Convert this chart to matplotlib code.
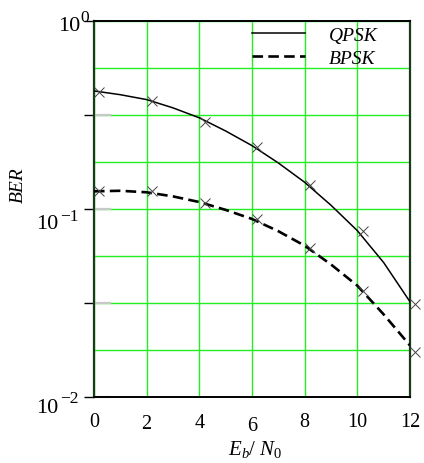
import matplotlib
matplotlib.use("Agg")
import matplotlib.pyplot as plt
import matplotlib.transforms as mtransforms
import numpy as np

# ---- data ----
ebn0_curve = [0, 1, 2, 3, 4, 5, 6, 7, 8, 9, 10, 11, 12]
qpsk_curve = [0.4246, 0.4055, 0.3819, 0.3451, 0.3055, 0.2600, 0.2173,
              0.1758, 0.1387, 0.1047, 0.0767, 0.0519, 0.0321]
bpsk_curve = [0.1242, 0.1250, 0.1227, 0.1167, 0.1089, 0.0989, 0.0885,
              0.0762, 0.0638, 0.0507, 0.0391, 0.0275, 0.0188]

ebn0_sim = [0.2, 2.2, 4.2, 6.2, 8.2, 10.2, 12.2]
qpsk_sim = [0.419, 0.377, 0.291, 0.213, 0.134, 0.0760, 0.0313]
bpsk_sim = [0.124, 0.124, 0.1076, 0.0885, 0.0618, 0.0368, 0.0173]

x_ticks = [0, 2, 4, 6, 8, 10, 12]
y_ticks = [1e0, 1e-1, 1e-2]
y_tick_exponents = ["0", "\u22121", "\u22122"]
series_names = ["QPSK", "BPSK"]

# ---- layout (pixel offsets relative to the left spine / tick) ----
# (right edge of "10", left of superscript, base baseline below tick, sup baseline below tick)
ylabel_layout = [(-14, -14, 9, 0), (-36, -34, 19, 11), (-36, -34, 15, 5)]

plt.rcParams["font.family"] = ["Liberation Serif", "DejaVu Serif"]
plt.rcParams["mathtext.fontset"] = "custom"
plt.rcParams["mathtext.rm"] = "Liberation Serif"
plt.rcParams["mathtext.it"] = "Liberation Serif:italic"
plt.rcParams["mathtext.bf"] = "Liberation Serif:bold"

fig = plt.figure(figsize=(4.24, 4.64), dpi=100)
ax = fig.add_axes([94/424, 1-398/464, 316/424, 376/464])

ax.set_yscale("log")
ax.set_xlim(0, 12)
ax.set_ylim(1e-2, 1e0)

green = "#22ee22"
for xv in x_ticks:
    ax.axvline(xv, color=green, lw=1.0, zorder=1)
grid_y = 10 ** (-np.arange(0, 9) / 4.0)
for yv in grid_y:
    ax.axhline(yv, color=green, lw=1.0, zorder=1)

# curves
ax.plot(ebn0_curve, qpsk_curve, color="black", lw=1.1, zorder=3,
        label=series_names[0])
ax.plot(ebn0_curve, bpsk_curve, color="black", lw=1.9, dashes=(4, 2),
        zorder=3, label=series_names[1])
ax.plot(ebn0_sim, qpsk_sim, linestyle="none", marker="x", ms=6.5,
        mew=0.7, color="#444444", zorder=4, clip_on=False)
ax.plot(ebn0_sim, bpsk_sim, linestyle="none", marker="x", ms=6.5,
        mew=0.7, color="#444444", zorder=4, clip_on=False)

# x ticks
ax.set_xticks(x_ticks)
ax.set_xticklabels([str(v) for v in x_ticks])
ax.tick_params(axis="x", length=0, pad=11, labelsize=14.5)
offsets = {2: -2, 4: -1, 6: -4}
for tick, xv in zip(ax.xaxis.get_major_ticks(), x_ticks):
    if xv in offsets:
        tr = tick.label1.get_transform() + mtransforms.ScaledTranslation(
            0, offsets[xv] / 100.0, fig.dpi_scale_trans)
        tick.label1.set_transform(tr)

# y ticks (labels drawn manually as 10 + superscript)
ax.set_yticks(y_ticks)
ax.yaxis.set_minor_locator(matplotlib.ticker.FixedLocator([10**-0.5, 10**-1.5]))
ax.yaxis.set_minor_formatter(matplotlib.ticker.NullFormatter())
ax.tick_params(axis="y", which="both", direction="out", length=7.5,
               width=1.0, color="black", labelleft=False)
for yv in [1e0, 10**-0.5, 1e-1, 10**-1.5, 1e-2]:
    ax.plot([0, 0.05], [yv, yv], transform=ax.get_yaxis_transform(),
            color="#c8c8c8", lw=1.6, zorder=2, clip_on=False)

px = 0.72  # points per pixel at dpi 100
for yv, ex, (bx, sx, bdy, sdy) in zip(y_ticks, y_tick_exponents, ylabel_layout):
    ax.annotate("10", xy=(0, yv), xycoords=("axes fraction", "data"),
                xytext=(bx * px, -bdy * px), textcoords="offset points",
                ha="right", va="baseline", fontsize=16, annotation_clip=False)
    ax.annotate(ex, xy=(0, yv), xycoords=("axes fraction", "data"),
                xytext=(sx * px, -sdy * px), textcoords="offset points",
                ha="left", va="baseline", fontsize=12.5, annotation_clip=False)

# spines
for s in ["top", "bottom"]:
    ax.spines[s].set_color("black")
    ax.spines[s].set_linewidth(1.4)
for s in ["left", "right"]:
    ax.spines[s].set_color("#1b3a1b")
    ax.spines[s].set_linewidth(1.6)

ax.set_xlabel(r"$E_b/\ N_0$", fontsize=15, labelpad=0)
ax.xaxis.set_label_coords(0.51, -0.108)
ax.set_ylabel("BER", fontsize=14, fontstyle="italic")
ax.yaxis.set_label_coords(-0.212, 0.566)

leg = ax.legend(loc="upper left", bbox_to_anchor=(158/316, 0.986),
                frameon=False, handlelength=2.75,
                handletextpad=1.2, borderpad=0.0, borderaxespad=0.0,
                labelspacing=0.28, prop={"style": "italic", "size": 14})

fig.savefig("out.png", dpi=100)
